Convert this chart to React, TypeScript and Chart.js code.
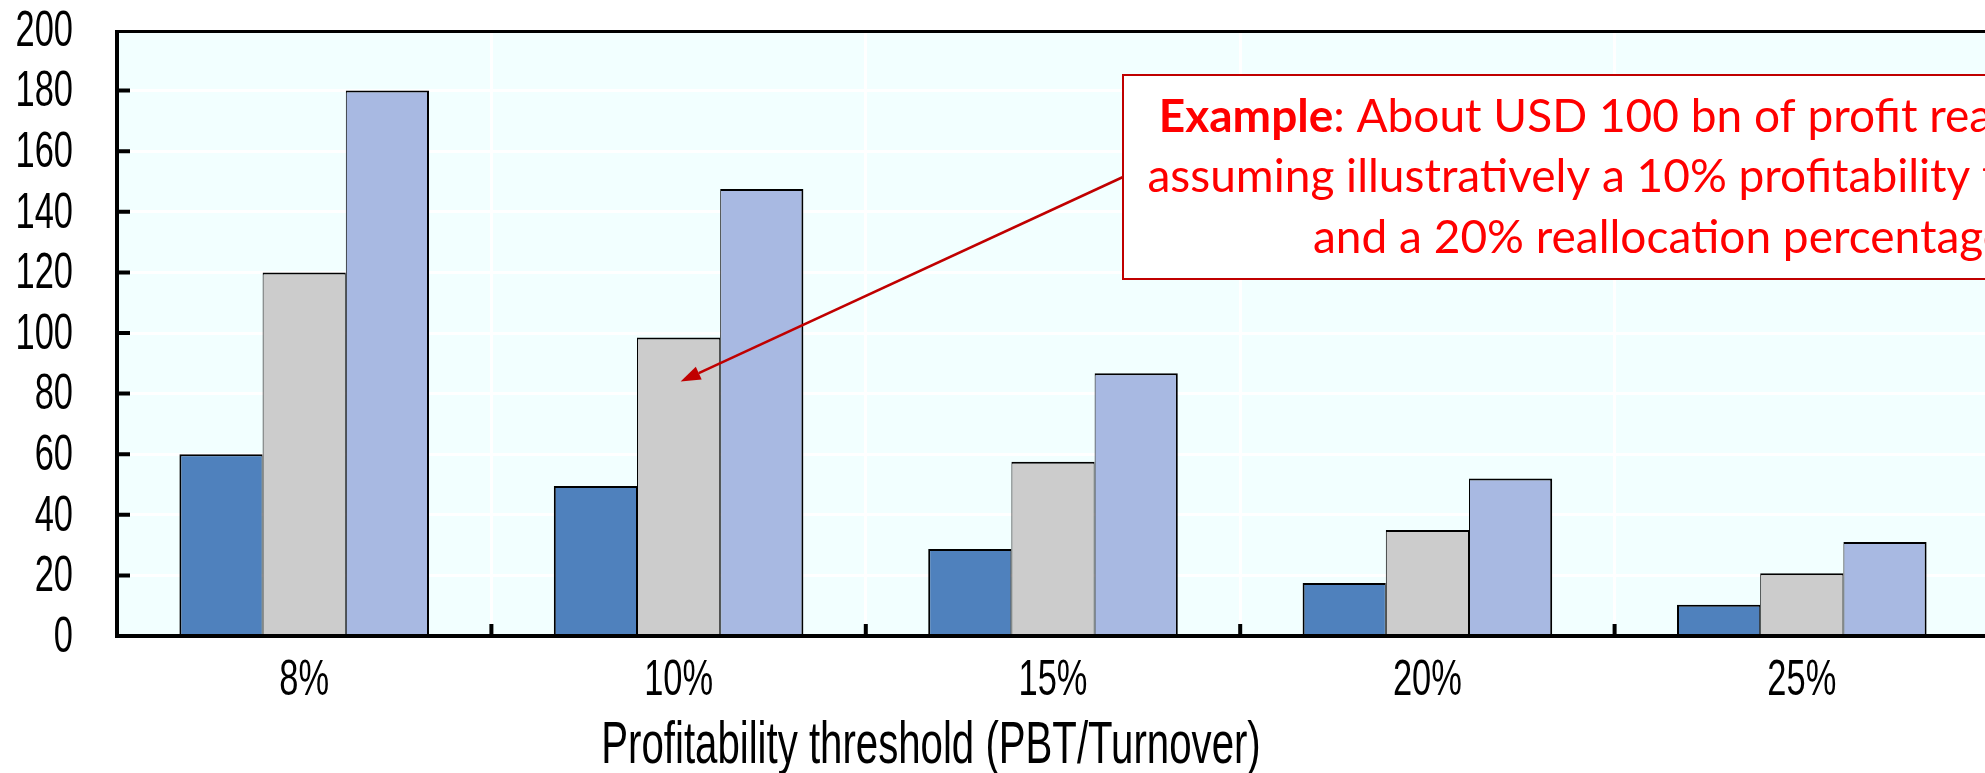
import React, { useEffect, useRef } from 'react';
import { Chart, registerables } from 'chart.js';

Chart.register(...registerables);

// Profit reallocated (USD bn) by profitability threshold, for three reallocation percentages
const categories = ['8%', '10%', '15%', '20%', '25%'];
const realloc10 = [60, 49.5, 28.7, 17.5, 10.3];
const realloc20 = [120, 98.5, 57.5, 35, 20.7];
const realloc30 = [180, 147.5, 86.7, 52, 31];
const yTicks = [0, 20, 40, 60, 80, 100, 120, 140, 160, 180, 200];
const xAxisTitle = 'Profitability threshold (PBT/Turnover)';

// Call-out text and the point it refers to (category index, value)
const noteBold = 'Example';
const noteLines = [
  ': About USD 100 bn of profit reallocated,',
  'assuming illustratively a 10% profitability threshold',
  'and a 20% reallocation percentage',
];
const notePointer = { category: 1, value: 84 };

const CANVAS_W = 2010;
const CANVAS_H = 773;
const PLOT_BG = '#F2FFFF';
// condensed look obtained by squeezing Liberation Sans horizontally
const AXIS_FONT = '"Liberation Sans", Arial, sans-serif';
const NOTE_FONT = 'Lato, "Open Sans", sans-serif';
const NOTE_RED = '#FF0000';
const ARROW_RED = '#C00000';

function drawScaled(
  ctx: CanvasRenderingContext2D,
  text: string,
  x: number,
  baseline: number,
  sx: number,
  sy: number,
  align: CanvasTextAlign
) {
  ctx.save();
  ctx.translate(x, baseline);
  ctx.scale(sx, sy);
  ctx.textAlign = align;
  ctx.textBaseline = 'alphabetic';
  ctx.fillText(text, 0, 0);
  ctx.restore();
}

const chartDecor = {
  id: 'chartDecor',
  beforeDraw(chart: any) {
    const { ctx, chartArea: a } = chart;
    ctx.save();
    ctx.fillStyle = PLOT_BG;
    ctx.fillRect(a.left, a.top, a.right - a.left, a.bottom - a.top);
    ctx.restore();
  },
  afterDraw(chart: any) {
    const { ctx, chartArea: a, scales } = chart;
    const xs = scales.x;
    const ys = scales.y;
    ctx.save();

    // frame: left axis, bottom axis, top border
    ctx.strokeStyle = '#000';
    ctx.lineCap = 'butt';
    ctx.lineWidth = 4;
    ctx.beginPath();
    ctx.moveTo(a.left, a.top);
    ctx.lineTo(a.left, a.bottom + 2);
    ctx.moveTo(a.left - 2, a.bottom);
    ctx.lineTo(a.right, a.bottom);
    ctx.stroke();
    ctx.lineWidth = 3;
    ctx.beginPath();
    ctx.moveTo(a.left - 2, a.top + 1.5);
    ctx.lineTo(a.right, a.top + 1.5);
    ctx.stroke();

    // inward tick marks
    ctx.lineWidth = 4;
    ctx.beginPath();
    yTicks.slice(1, -1).forEach((v) => {
      const y = ys.getPixelForValue(v);
      ctx.moveTo(a.left, y);
      ctx.lineTo(a.left + 13, y);
    });
    for (let k = 1; k < categories.length; k++) {
      const x = (xs.getPixelForValue(k - 1) + xs.getPixelForValue(k)) / 2;
      ctx.moveTo(x, a.bottom);
      ctx.lineTo(x, a.bottom - 12);
    }
    ctx.stroke();

    // tick labels
    ctx.fillStyle = '#000';
    const tickSize = 42;
    const sx = 0.82;
    const sy = 1.18;
    const capH = 0.716 * tickSize * sy;
    ctx.font = `${tickSize}px ${AXIS_FONT}`;
    yTicks.forEach((v) => {
      const y = ys.getPixelForValue(v) - 2;
      drawScaled(ctx, String(v), a.left - 44, y + capH / 2, sx, sy, 'right');
    });
    categories.forEach((c, i) => {
      drawScaled(ctx, c, xs.getPixelForValue(i), a.bottom + 59, sx, sy, 'center');
    });

    // axis title
    ctx.font = `49px ${AXIS_FONT}`;
    drawScaled(ctx, xAxisTitle, 931, 763, 0.82, 1.2, 'center');

    // call-out box
    const boxLeft = 1123;
    const boxTop = 75;
    const boxH = 204;
    const noteSize = 46;
    ctx.font = `${noteSize}px ${NOTE_FONT}`;
    const w3 = ctx.measureText(noteLines[2]).width;
    const cx = boxLeft + 190 + w3 / 2;
    const boxW = 2 * (cx - boxLeft);
    ctx.fillStyle = '#FFFFFF';
    ctx.fillRect(boxLeft, boxTop, boxW, boxH);
    ctx.strokeStyle = ARROW_RED;
    ctx.lineWidth = 2;
    ctx.strokeRect(boxLeft, boxTop, boxW, boxH);

    ctx.fillStyle = NOTE_RED;
    ctx.textBaseline = 'alphabetic';
    ctx.textAlign = 'left';
    ctx.font = `bold ${noteSize}px ${NOTE_FONT}`;
    const wb = ctx.measureText(noteBold).width;
    ctx.font = `${noteSize}px ${NOTE_FONT}`;
    const wr = ctx.measureText(noteLines[0]).width;
    const start1 = cx - (wb + wr) / 2;
    ctx.font = `bold ${noteSize}px ${NOTE_FONT}`;
    ctx.fillText(noteBold, start1, 132);
    ctx.font = `${noteSize}px ${NOTE_FONT}`;
    ctx.fillText(noteLines[0], start1 + wb, 132);
    ctx.textAlign = 'center';
    ctx.fillText(noteLines[1], cx, 192);
    ctx.fillText(noteLines[2], cx, 253);

    // arrow from the box to the bar it describes
    const ax = boxLeft;
    const ay = boxTop + boxH / 2;
    const tx = xs.getPixelForValue(notePointer.category) + 2;
    const ty = ys.getPixelForValue(notePointer.value);
    const ang = Math.atan2(ty - ay, tx - ax);
    const headLen = 20;
    const headHalf = 7;
    const bx = tx - headLen * Math.cos(ang);
    const by = ty - headLen * Math.sin(ang);
    ctx.strokeStyle = ARROW_RED;
    ctx.fillStyle = ARROW_RED;
    ctx.lineWidth = 2.5;
    ctx.beginPath();
    ctx.moveTo(ax, ay);
    ctx.lineTo(bx, by);
    ctx.stroke();
    ctx.beginPath();
    ctx.moveTo(tx, ty);
    ctx.lineTo(bx + headHalf * Math.sin(ang), by - headHalf * Math.cos(ang));
    ctx.lineTo(bx - headHalf * Math.sin(ang), by + headHalf * Math.cos(ang));
    ctx.closePath();
    ctx.fill();

    ctx.restore();
  },
};

export default function App() {
  const canvasRef = useRef<HTMLCanvasElement | null>(null);

  useEffect(() => {
    const canvas = canvasRef.current;
    if (!canvas) return;
    const barBase = {
      borderColor: '#000000',
      borderSkipped: 'start' as const,
      barPercentage: 1.0,
      categoryPercentage: 250 / 375,
    };
    const chart = new Chart(canvas, {
      type: 'bar',
      data: {
        labels: categories,
        datasets: [
          {
            ...barBase,
            label: '10% reallocation',
            data: realloc10,
            backgroundColor: '#4F81BD',
            borderWidth: { top: 2, left: 2, right: 1, bottom: 0 },
          },
          {
            ...barBase,
            label: '20% reallocation',
            data: realloc20,
            backgroundColor: '#CCCCCC',
            borderWidth: { top: 2, left: 1, right: 1, bottom: 0 },
          },
          {
            ...barBase,
            label: '30% reallocation',
            data: realloc30,
            backgroundColor: '#A8B9E2',
            borderWidth: { top: 2, left: 1, right: 2, bottom: 0 },
          },
        ],
      },
      options: {
        responsive: false,
        animation: false,
        layout: { padding: { top: 30, right: 21, left: 0, bottom: 0 } },
        plugins: {
          legend: { display: false },
          tooltip: { enabled: false },
        },
        scales: {
          x: {
            type: 'category',
            offset: true,
            grid: { display: true, offset: true, color: '#FFFFFF', lineWidth: 3, drawTicks: false },
            border: { display: false },
            ticks: { display: false },
            afterFit: (s: any) => {
              s.height = 137;
            },
          },
          y: {
            min: 0,
            max: 200,
            ticks: { stepSize: 20, display: false },
            grid: { color: '#FFFFFF', lineWidth: 3, drawTicks: false },
            border: { display: false },
            afterFit: (s: any) => {
              s.width = 117;
            },
          },
        },
      },
      plugins: [chartDecor],
    });
    return () => chart.destroy();
  }, []);

  return (
    <div
      style={{
        position: 'fixed',
        left: 0,
        top: 0,
        width: 1985,
        height: 773,
        overflow: 'hidden',
        background: '#FFFFFF',
      }}
    >
      <canvas ref={canvasRef} width={CANVAS_W} height={CANVAS_H} style={{ display: 'block' }} />
    </div>
  );
}
